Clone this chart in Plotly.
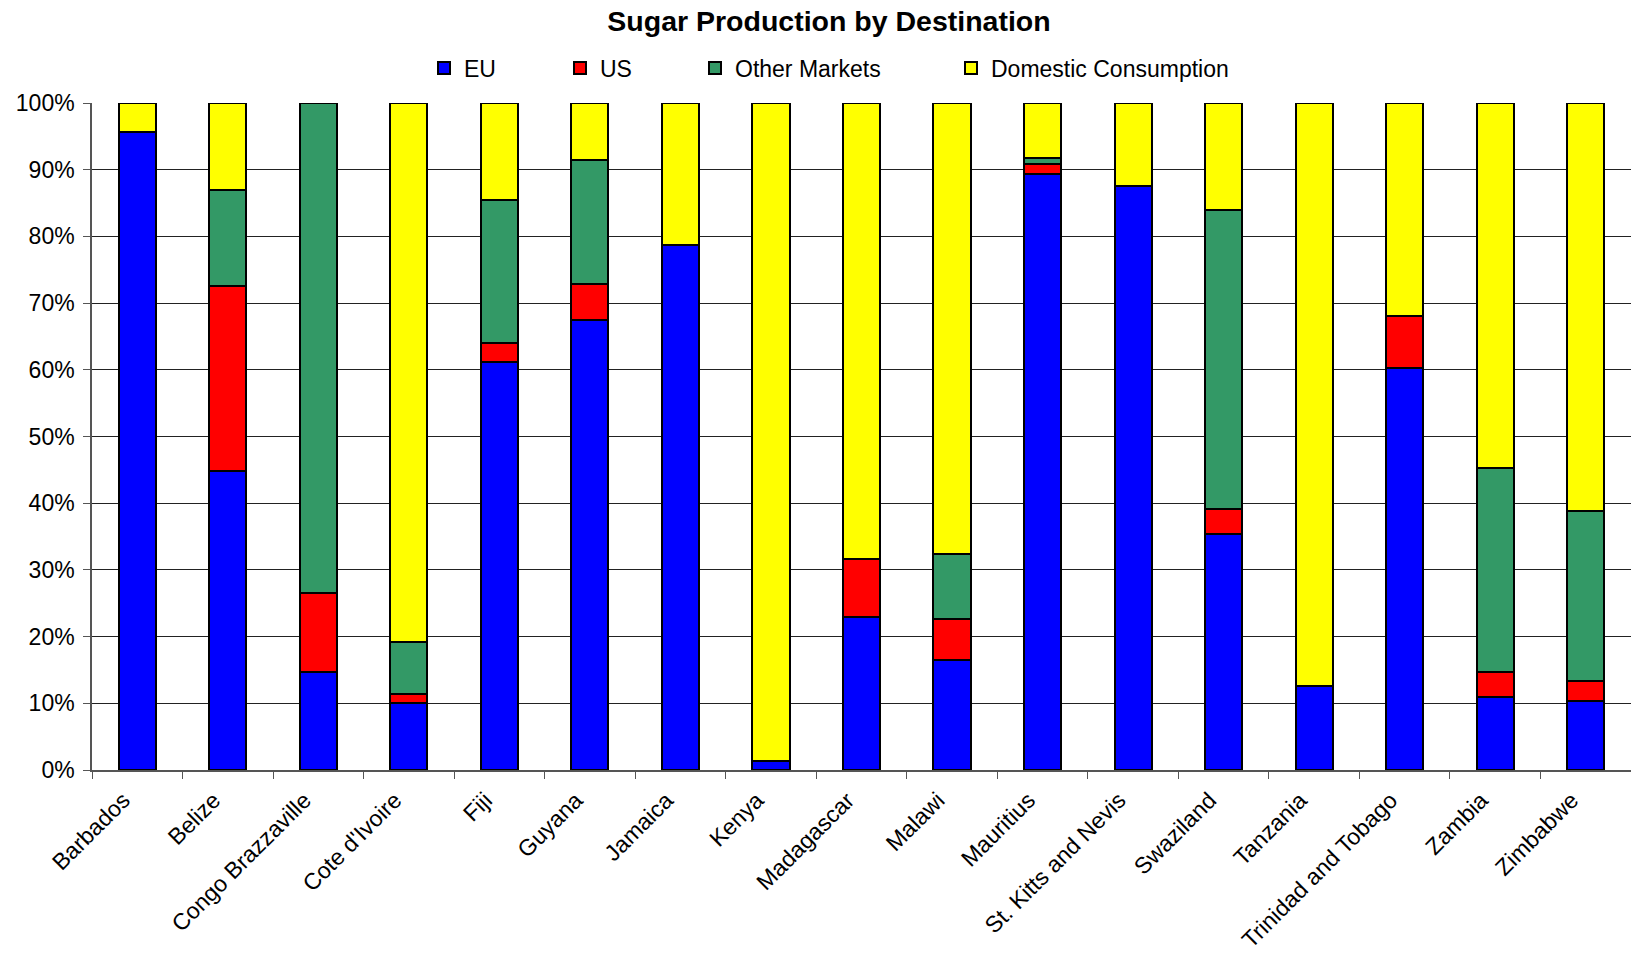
import plotly.graph_objects as go

countries = ["Barbados", "Belize", "Congo Brazzaville", "Cote d'Ivoire", "Fiji", "Guyana",
             "Jamaica", "Kenya", "Madagascar", "Malawi", "Mauritius", "St. Kitts and Nevis",
             "Swaziland", "Tanzania", "Trinidad and Tobago", "Zambia", "Zimbabwe"]
eu = [95.7, 44.9, 14.7, 10.0, 61.2, 67.4, 78.7, 1.4, 23.0, 16.5, 89.3, 87.6, 35.4, 12.6, 60.3, 10.9, 10.3]
us = [0.0, 27.7, 11.8, 1.4, 2.8, 5.5, 0.0, 0.0, 8.7, 6.1, 1.6, 0.0, 3.8, 0.0, 7.7, 3.8, 3.0]
other = [0.0, 14.4, 73.5, 7.8, 21.5, 18.5, 0.0, 0.0, 0.0, 9.8, 0.9, 0.0, 44.7, 0.0, 0.0, 30.6, 25.5]
domestic = [4.3, 13.0, 0.0, 80.8, 14.5, 8.6, 21.3, 98.6, 68.3, 67.6, 8.2, 12.4, 16.1, 87.4, 32.0, 54.7, 61.2]
y_ticks = [0, 10, 20, 30, 40, 50, 60, 70, 80, 90, 100]

series = [
    ("EU", eu, "#0000FF", "legend"),
    ("US", us, "#FF0000", "legend2"),
    ("Other Markets", other, "#339966", "legend3"),
    ("Domestic Consumption", domestic, "#FFFF00", "legend4"),
]

W, H = 1631, 953
L, R, T, B = 92, 0, 103, 183
PW, PH = W - L - R, H - T - B
FONT = "Liberation Sans, Arial, sans-serif"

fig = go.Figure()
for name, vals, color, lg in series:
    fig.add_trace(go.Bar(
        x=countries, y=vals, name=name, legend=lg,
        marker=dict(color=color, line=dict(color="black", width=2)),
    ))

legend_x = {"legend": 438, "legend2": 574, "legend3": 709, "legend4": 965}
legend_common = dict(
    yanchor="middle", xanchor="left",
    font=dict(family=FONT, size=23, color="black"), bgcolor="rgba(0,0,0,0)",
    borderwidth=0, tracegroupgap=0, itemwidth=30, orientation="h",
)
layout_legends = {}
for key, px in legend_x.items():
    layout_legends[key] = dict(x=(px - 14 - L) / PW, y=(H - B - 68) / PH, **legend_common)

fig.update_layout(
    width=W, height=H,
    barmode="stack", bargap=0.59,
    plot_bgcolor="white", paper_bgcolor="white",
    margin=dict(l=L, r=R, t=T, b=B),
    title=dict(text="<b>Sugar Production by Destination</b>", x=829 / W, xref="container",
               xanchor="center", y=1 - 21 / H, yref="container", yanchor="middle",
               font=dict(family=FONT, size=28.5, color="black")),
    font=dict(family=FONT, color="black"),
    showlegend=True,
    **layout_legends,
)
fig.update_xaxes(
    tickangle=-45, tickfont=dict(family=FONT, size=23, color="black"),
    ticklabelshift=-14, ticklabelstandoff=6,
    tickson="boundaries", ticks="outside", ticklen=7, tickcolor="#555",
    showline=True, linecolor="#555", linewidth=1.5, showgrid=False,
)
fig.update_yaxes(
    range=[0, 100], tickvals=y_ticks, ticktext=[f"{v}%" for v in y_ticks],
    tickfont=dict(family=FONT, size=23, color="black"), ticklabelstandoff=4,
    ticks="outside", ticklen=7, tickcolor="#555",
    showline=True, linecolor="#555", linewidth=1.5,
    showgrid=True, gridcolor="#222", gridwidth=1, zeroline=False,
)

fig.write_html("out.html")
